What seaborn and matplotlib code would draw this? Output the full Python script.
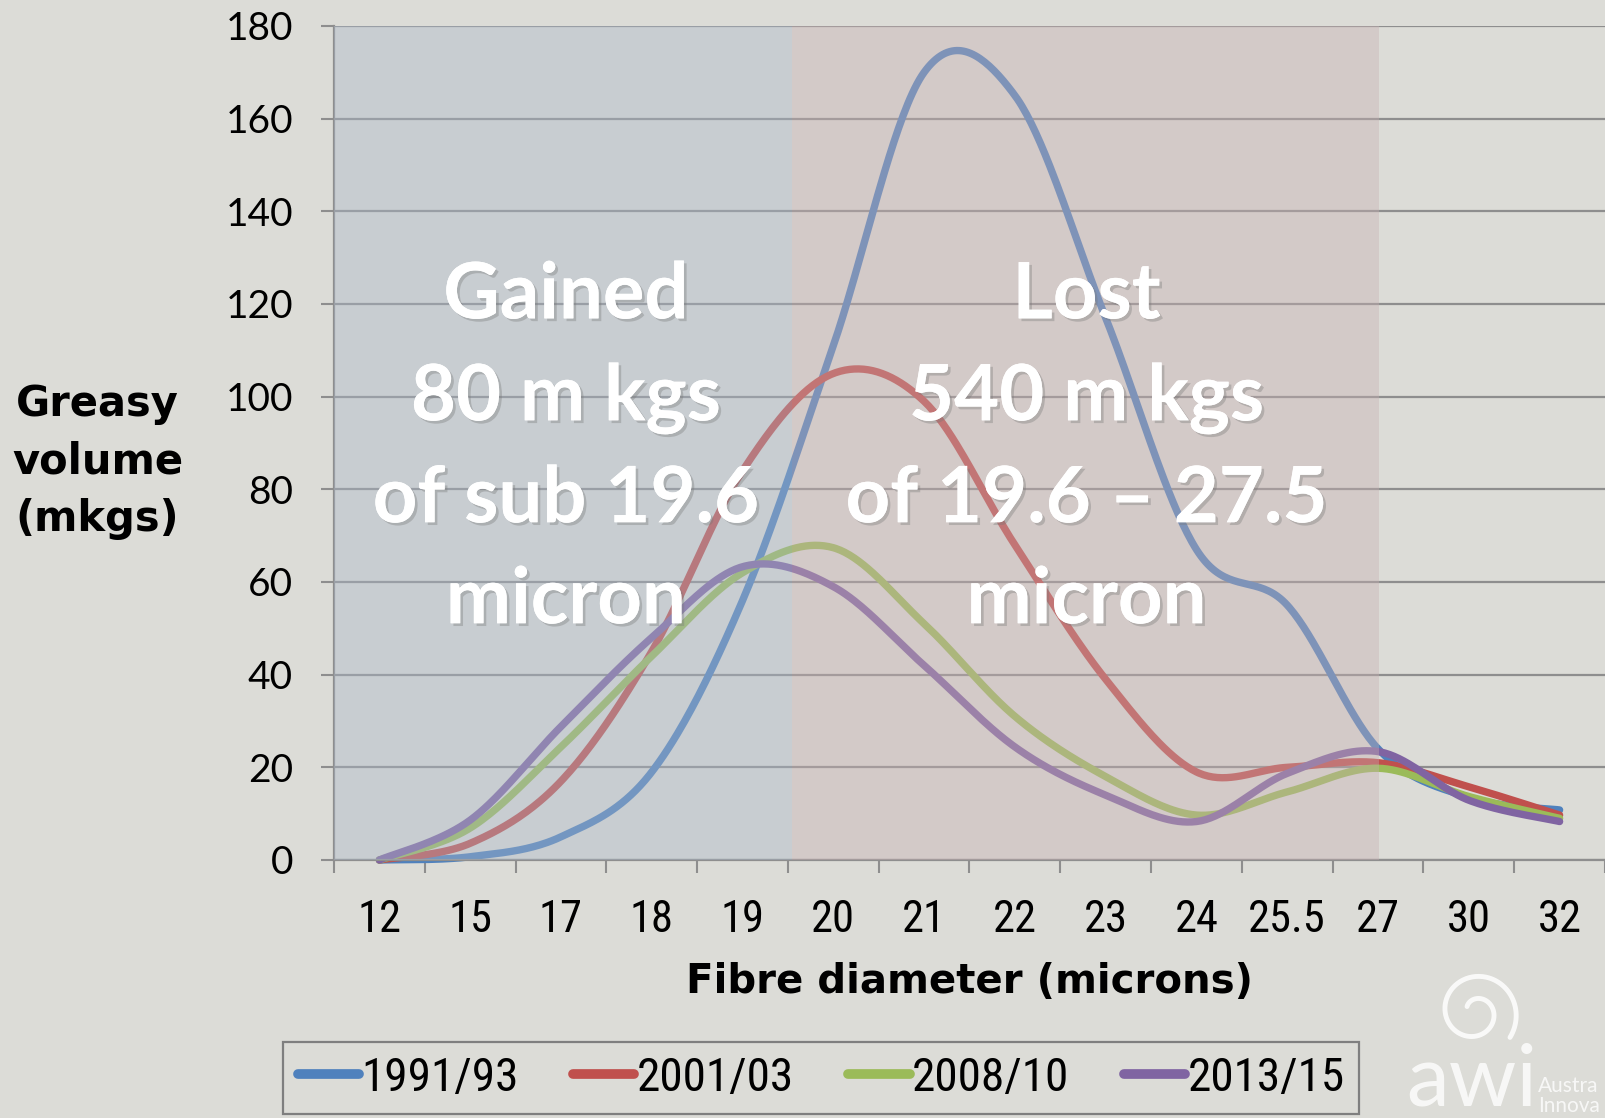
"""Greasy wool volume by fibre diameter, four periods, Excel-style smoothed lines."""
import matplotlib
matplotlib.use("Agg")
import matplotlib.pyplot as plt
import matplotlib.patheffects as pe
from matplotlib.lines import Line2D
from matplotlib.patches import Rectangle
from matplotlib.ticker import FixedLocator, MultipleLocator
import numpy as np
import pandas as pd
import seaborn as sns

# ---- data (mkgs) ----
microns = ["12", "15", "17", "18", "19", "20", "21", "22", "23", "24", "25.5", "27", "30", "32"]
v_1991 = [0, 0.7, 5, 19, 56, 111, 170, 165, 117, 67, 55, 24, 13.5, 10.8]
v_2001 = [0, 3.6, 17, 45, 84, 105, 99, 68, 39, 19, 20, 21, 15.8, 9.7]
v_2008 = [0, 6.9, 24.4, 44, 62, 67.4, 51, 31, 18, 9.7, 14.7, 19.8, 13.7, 9]
v_2013 = [0, 8.6, 28.8, 48, 63.3, 59, 42, 24.4, 14, 8.3, 18.7, 23.4, 12.9, 8.3]
periods = ["1991/93", "2001/03", "2008/10", "2013/15"]
colors = ["#4F81BD", "#C0504D", "#9BBB59", "#8064A2"]

gained_lines = ["Gained", "80 m kgs", "of sub 19.6", "micron"]
lost_lines = ["Lost", "540 m kgs", "of 19.6 \u2013 27.5", "micron"]

BG = "#DCDCD7"
GRID = "#8E8E8E"
NARROW = ["Roboto Condensed", "Liberation Sans Narrow", "Roboto", "DejaVu Sans"]


def excel_smooth(y, steps=40):
    """Bezier smoothing like Excel's 'smoothed line' option."""
    p = np.column_stack([np.arange(len(y)), np.asarray(y, float)])
    out = [p[0]]
    t = np.linspace(0, 1, steps)[1:, None]
    for i in range(len(p) - 1):
        prev = p[i - 1] if i > 0 else p[i]
        nxt = p[i + 2] if i + 2 < len(p) else p[i + 1]
        c1 = p[i] + (p[i + 1] - prev) / 6
        c2 = p[i + 1] - (nxt - p[i]) / 6
        seg = ((1 - t) ** 3 * p[i] + 3 * (1 - t) ** 2 * t * c1
               + 3 * (1 - t) * t ** 2 * c2 + t ** 3 * p[i + 1])
        out.extend(seg)
    out = np.array(out)
    return out[:, 0], out[:, 1]


sns.set_theme(style="white")
plt.rcParams["font.family"] = ["Lato", "DejaVu Sans"]
plt.rcParams.update({"text.color": "black", "axes.labelcolor": "black",
                     "xtick.color": "black", "ytick.color": "black"})

fig = plt.figure(figsize=(16.05, 11.18), dpi=100, facecolor=BG)
ax = fig.add_axes([334 / 1605, 258 / 1118, 1271 / 1605, 834 / 1118])
ax.set_facecolor(BG)

rows = []
for name, vals in zip(periods, [v_1991, v_2001, v_2008, v_2013]):
    xs, ys = excel_smooth(vals)
    rows.append(pd.DataFrame({"x": xs, "y": ys, "period": name}))
df = pd.concat(rows, ignore_index=True)

sns.lineplot(data=df, x="x", y="y", hue="period", palette=colors, sort=False,
             estimator=None, units="period", lw=5.3, legend=False, ax=ax,
             zorder=2)
for ln in ax.lines:
    ln.set_solid_capstyle("round")
    ln.set_clip_on(False)

# translucent shaded bands laid over the lines
ax.add_patch(Rectangle((-0.5, 0), 5.04, 180, facecolor="#AAB7C8", alpha=0.4,
                       edgecolor="none", zorder=3))
ax.add_patch(Rectangle((4.54, 0), 11.01 - 4.54, 180, facecolor="#C6AFB2", alpha=0.4,
                       edgecolor="none", zorder=3))

ax.set_xlim(-0.5, 13.5)
ax.set_ylim(0, 180)
ax.yaxis.set_major_locator(MultipleLocator(20))
ax.xaxis.set_major_locator(FixedLocator(range(len(microns))))
ax.xaxis.set_minor_locator(FixedLocator(np.arange(-0.5, 14, 1)))
ax.set_xticklabels(microns, family=NARROW, fontsize=32)
for lab in ax.get_yticklabels():
    lab.set_fontsize(28)

ax.grid(axis="y", color=GRID, lw=1.6, zorder=1)
ax.set_axisbelow(True)
ax.tick_params(axis="x", which="major", bottom=False, length=0, pad=28, labelcolor="black")
ax.tick_params(axis="x", which="minor", bottom=True, length=9.5, width=1.5, color=GRID,
               direction="out")
ax.tick_params(axis="y", left=True, length=9.5, width=1.5, color=GRID, direction="out",
               pad=20, labelcolor="black")
for side in ["top", "right"]:
    ax.spines[side].set_visible(False)
for side in ["left", "bottom"]:
    ax.spines[side].set_color(GRID)
    ax.spines[side].set_linewidth(1.6)

ax.set_xlabel("Fibre diameter (microns)", fontsize=29, fontweight="bold",
              family="DejaVu Sans", color="black")
ax.xaxis.set_label_coords(0.5, -0.146)
ax.xaxis.label.set_va("center")
ax.set_ylabel("Greasy\nvolume\n(mkgs)", fontsize=30, fontweight="bold", rotation=0,
              family="DejaVu Sans", linespacing=1.48, ha="center", va="center",
              color="black")
ax.yaxis.set_label_coords(-0.186, 0.478)

# big white annotation blocks
shadow = [pe.withSimplePatchShadow(offset=(2, -2), shadow_rgbFace="#777777", alpha=0.35),
          pe.Normal()]
baselines = [116.9, 94.9, 72.9, 51.1]
for cx, lines in [(2.055, gained_lines), (7.79, lost_lines)]:
    for yb, txt in zip(baselines, lines):
        ax.text(cx, yb, txt, ha="center", va="baseline", color="white", fontsize=56,
                fontweight="bold", family=["Lato", "DejaVu Sans"], zorder=5,
                path_effects=shadow)

handles = [Line2D([], [], color=c, lw=7, solid_capstyle="round") for c in colors]
leg = fig.legend(handles, periods, loc="center", bbox_to_anchor=(821 / 1605, 40 / 1118),
                 ncol=4, frameon=True, fancybox=False, facecolor=BG, edgecolor="#7F7F7F",
                 framealpha=1, handlelength=1.3, handletextpad=0.05, columnspacing=1.15,
                 borderpad=0.3, borderaxespad=0.0, prop={"family": NARROW, "size": 34})
leg.get_frame().set_linewidth(1.6)
for t in leg.get_texts():
    t.set_color("black")

# faint logo in the corner
fig.text(1472 / 1605, 1 - 1082 / 1118, "awi", fontsize=62, color="white", alpha=0.8,
         ha="center", va="center", family=["Lato", "DejaVu Sans"])
fig.text(1538 / 1605, 1 - 1096 / 1118, "Austra\nInnova", fontsize=15, color="white",
         alpha=0.8, ha="left", va="center", linespacing=0.95)
lax = fig.add_axes([1425 / 1605, 1 - 1058 / 1118, 100 / 1605, 92 / 1118])
lax.set_axis_off()
th = np.linspace(0.6, 3.2 * np.pi, 300)
r = 0.18 + 0.085 * th
lax.plot(r * np.cos(-th + np.pi), r * np.sin(-th + np.pi), color="white", lw=3.5, alpha=0.85)
lax.set_aspect("equal")
lax.set_xlim(-1.1, 1.1)
lax.set_ylim(-1.1, 1.1)

fig.savefig("out.png", dpi=100, facecolor=BG)
